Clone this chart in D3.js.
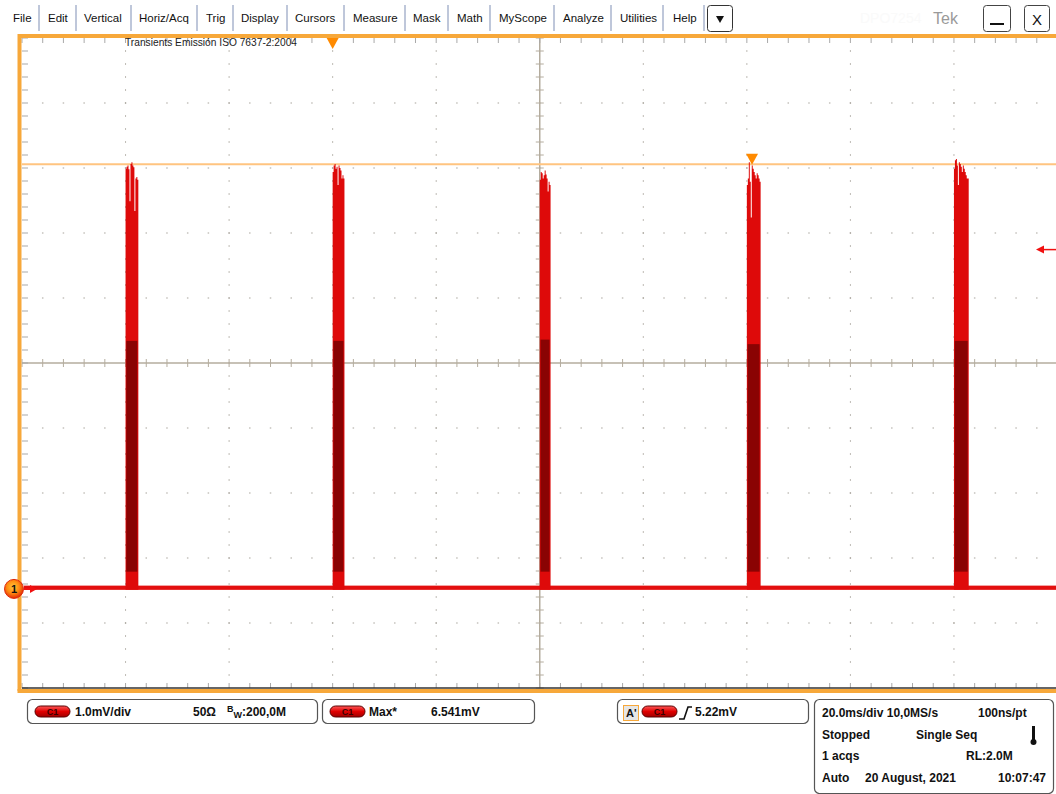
<!DOCTYPE html>
<html>
<head>
<meta charset="utf-8">
<script src="https://cdn.jsdelivr.net/npm/d3@7"></script>
<style>
  body { margin: 0; background: #fff; }
  svg { display: block; font-family: "Liberation Sans", Arial, sans-serif; }
</style>
</head>
<body>
<script>
// ---- data ----
var menuItems = ["File","Edit","Vertical","Horiz/Acq","Trig","Display","Cursors","Measure","Mask","Math","MyScope","Analyze","Utilities","Help"];
var menuX = [13, 48, 84, 139, 206, 241, 295, 353, 413, 457, 499, 563, 620, 673];
var menuSepX = [39, 76, 131, 197, 233, 287, 344, 405, 448, 490, 554, 611, 663, 704];

var timeDomain = [-60, 140];          // ms, trigger at 0
var groundDiv = -3.46;                // channel 1 ground position, divisions from centre
var voltsPerDiv = 1.0;                // mV/div
var pulseStarts = [-40, 0, 40, 80, 120]; // ms
var burstStep = 0.19;                 // ms between samples inside a burst
var pulsePeaks = [
  [6.45, 6.48, 6.50, 6.44, 5.95, 6.52, 6.55, 6.50, 6.47, 5.80, 6.30, 6.32, 6.28],
  [6.40, 6.50, 6.52, 6.45, 6.48, 6.20, 6.50, 6.46, 6.42, 6.30, 6.35, 6.30],
  [6.28, 6.40, 6.38, 6.30, 6.35, 6.42, 6.36, 6.30, 6.10, 6.25, 6.20],
  [6.20, 6.30, 6.55, 6.25, 5.70, 6.50, 6.45, 6.40, 6.35, 6.30, 6.38, 6.35, 6.30, 6.25],
  [6.45, 6.58, 6.60, 6.50, 6.20, 6.55, 6.52, 6.48, 6.40, 6.50, 6.45, 6.40, 6.35, 6.30, 6.30]
];
var denseTop = [3.80, 3.80, 3.82, 3.75, 3.80]; // mV, top of the dense (dark) part
var baseLow = -0.03, baseHigh = 0.035;          // baseline noise band, mV
var maxValue = 6.541, maxTime = 81;             // Max* measurement
var trigLevel = 5.22;

var title = "Transients Emissión ISO 7637-2:2004";

var W = 1056, H = 794;
var svg = d3.select("body").append("svg").attr("width", W).attr("height", H);

// ---- menu bar ----
var menu = svg.append("g");
menu.selectAll("text.m").data(menuItems).enter().append("text")
  .attr("x", function(d, i){ return menuX[i]; })
  .attr("y", 22).attr("font-size", 11.5).attr("fill", "#111")
  .text(function(d){ return d; });
menu.selectAll("line.sep").data(menuSepX).enter().append("line")
  .attr("x1", function(d){ return d; }).attr("x2", function(d){ return d; })
  .attr("y1", 5).attr("y2", 31).attr("stroke", "#7f8fb5").attr("stroke-width", 1);
menu.append("rect").attr("x", 707.5).attr("y", 5.5).attr("width", 25).attr("height", 26).attr("rx", 3)
  .attr("fill", "#fff").attr("stroke", "#333");
menu.append("path").attr("d", "M716,16 L724,16 L720,23 Z").attr("fill", "#111");
menu.append("text").attr("x", 860).attr("y", 23).attr("font-size", 14).attr("fill", "#fafafa").text("DPO7254");
menu.append("text").attr("x", 933).attr("y", 24).attr("font-size", 16).attr("fill", "#9a9a9a").text("Tek");
menu.append("rect").attr("x", 983.5).attr("y", 5.5).attr("width", 27).attr("height", 26).attr("rx", 3)
  .attr("fill", "#fff").attr("stroke", "#444");
menu.append("line").attr("x1", 990).attr("x2", 1004).attr("y1", 24).attr("y2", 24).attr("stroke", "#111").attr("stroke-width", 2);
menu.append("rect").attr("x", 1024.5).attr("y", 5.5).attr("width", 25).attr("height", 26).attr("rx", 3)
  .attr("fill", "#fff").attr("stroke", "#444");
menu.append("text").attr("x", 1037).attr("y", 25).attr("text-anchor", "middle").attr("font-size", 15).attr("fill", "#111").text("X");

// ---- scales ----
var plotL = 22, plotR = 1057.5, plotT = 38, plotB = 688;
var xScale = d3.scaleLinear().domain(timeDomain).range([plotL, plotR]);
var vLo = (-5 - groundDiv) * voltsPerDiv, vHi = (5 - groundDiv) * voltsPerDiv;
var yScale = d3.scaleLinear().domain([vLo, vHi]).range([plotB, plotT]);
var tMajor = d3.range(timeDomain[0], timeDomain[1] + 0.01, 20);
var tMinor = d3.range(timeDomain[0], timeDomain[1] + 0.01, 4);
var vMajor = d3.range(vLo, vHi + 0.001, voltsPerDiv);
var vMinor = d3.range(vLo, vHi + 0.001, voltsPerDiv / 5);
var tCenter = (timeDomain[0] + timeDomain[1]) / 2, vCenter = (vLo + vHi) / 2;

// ---- graticule ----
var grat = svg.append("g");
var gridCol = "#a8a49c";
tMajor.slice(1, -1).forEach(function(t){
  if (t === tCenter) return;
  grat.selectAll(null).data(vMinor.slice(1, -1)).enter().append("rect")
    .attr("x", xScale(t) - 0.5).attr("y", function(v){ return yScale(v) - 0.75; })
    .attr("width", 1).attr("height", 1.5).attr("fill", gridCol);
});
vMajor.slice(1, -1).forEach(function(v){
  if (Math.abs(v - vCenter) < 1e-6) return;
  grat.selectAll(null).data(tMinor.slice(1, -1)).enter().append("rect")
    .attr("x", function(t){ return xScale(t) - 0.75; }).attr("y", yScale(v) - 0.5)
    .attr("width", 1.5).attr("height", 1).attr("fill", gridCol);
});
// centre crosshair
grat.append("line").attr("x1", plotL).attr("x2", W).attr("y1", yScale(vCenter)).attr("y2", yScale(vCenter))
  .attr("stroke", "#b4ac9e").attr("stroke-width", 1.5);
grat.append("line").attr("x1", xScale(tCenter)).attr("x2", xScale(tCenter)).attr("y1", plotT).attr("y2", plotB)
  .attr("stroke", "#b4ac9e").attr("stroke-width", 1.5);
grat.selectAll(null).data(tMinor).enter().append("line")
  .attr("x1", function(t){ return xScale(t); }).attr("x2", function(t){ return xScale(t); })
  .attr("y1", yScale(vCenter) - 4).attr("y2", yScale(vCenter) + 4).attr("stroke", "#b4ac9e");
grat.selectAll(null).data(vMinor).enter().append("line")
  .attr("x1", xScale(tCenter) - 4).attr("x2", xScale(tCenter) + 4)
  .attr("y1", function(v){ return yScale(v); }).attr("y2", function(v){ return yScale(v); }).attr("stroke", "#b4ac9e");
// edge ticks
grat.selectAll(null).data(tMinor).enter().append("line")
  .attr("x1", function(t){ return xScale(t); }).attr("x2", function(t){ return xScale(t); })
  .attr("y1", plotT).attr("y2", plotT + 5).attr("stroke", "#a9a9a9");
grat.selectAll(null).data(tMinor).enter().append("line")
  .attr("x1", function(t){ return xScale(t); }).attr("x2", function(t){ return xScale(t); })
  .attr("y1", plotB - 5).attr("y2", plotB).attr("stroke", "#a9a9a9");
grat.selectAll(null).data(vMinor).enter().append("line")
  .attr("x1", plotL).attr("x2", plotL + 6)
  .attr("y1", function(v){ return yScale(v); }).attr("y2", function(v){ return yScale(v); }).attr("stroke", "#a9a9a9");

// title
svg.append("text").attr("x", 125).attr("y", 46).attr("font-size", 10.5)
  .attr("textLength", 172).attr("lengthAdjust", "spacingAndGlyphs")
  .attr("fill", "#222").text(title);

// ---- max measurement line ----
svg.append("line").attr("x1", plotL).attr("x2", W).attr("y1", yScale(maxValue) + 1.5).attr("y2", yScale(maxValue) + 1.5)
  .attr("stroke", "#ffc480").attr("stroke-width", 2);

// ---- waveform ----
var wave = svg.append("g");
wave.append("rect").attr("x", xScale(timeDomain[0]) + 2).attr("width", W - plotL - 2)
  .attr("y", yScale(baseHigh)).attr("height", yScale(baseLow) - yScale(baseHigh)).attr("fill", "#e30f0f");
var burstArea = d3.area().curve(d3.curveStepAfter)
  .x(function(d){ return xScale(d.t); })
  .y0(yScale(baseLow)).y1(function(d){ return yScale(d.v); });
pulseStarts.forEach(function(t0, i){
  var pts = pulsePeaks[i].map(function(v, k){ return {t: t0 + k * burstStep, v: v}; });
  pts.push({t: t0 + pulsePeaks[i].length * burstStep, v: baseHigh});
  wave.append("path").attr("d", burstArea(pts)).attr("fill", "#de0a0a");
  var t1 = t0 + pulsePeaks[i].length * burstStep;
  wave.append("rect")
    .attr("x", xScale(t0 + 0.15)).attr("width", xScale(t1 - 0.2) - xScale(t0 + 0.15))
    .attr("y", yScale(denseTop[i])).attr("height", yScale(0.25) - yScale(denseTop[i]))
    .attr("fill", "#8a0303");
});

// ---- frame ----
svg.append("line").attr("x1", plotL).attr("x2", W).attr("y1", plotB).attr("y2", plotB).attr("stroke", "#333").attr("stroke-width", 1.5);
svg.append("path").attr("d", "M19.5," + (plotB + 3) + " L19.5,36 L" + W + ",36")
  .attr("fill", "none").attr("stroke", "#f7a83a").attr("stroke-width", 4);
svg.append("line").attr("x1", 17.5).attr("x2", W).attr("y1", plotB + 3).attr("y2", plotB + 3)
  .attr("stroke", "#f7a83a").attr("stroke-width", 4);

// trigger position marker (top)
svg.append("path").attr("d", "M" + (xScale(0) - 6) + "," + plotT + " L" + (xScale(0) + 6) + "," + plotT + " L" + xScale(0) + "," + (plotT + 11) + " Z")
  .attr("fill", "#ff8a00");
// max marker
var mx = xScale(maxTime), my = yScale(maxValue) + 1;
svg.append("path").attr("d", "M" + (mx - 6) + "," + (my - 10) + " L" + (mx + 6) + "," + (my - 10) + " L" + mx + "," + (my + 1) + " Z")
  .attr("fill", "#ff8a00");
// trigger level arrow (right)
var ty = yScale(trigLevel) + 1;
svg.append("line").attr("x1", 1042).attr("x2", W).attr("y1", ty).attr("y2", ty).attr("stroke", "#f01010").attr("stroke-width", 1.5);
svg.append("path").attr("d", "M1036," + ty + " L1044," + (ty - 4) + " L1044," + (ty + 4) + " Z").attr("fill", "#f01010");

// channel 1 ground marker
var gy = yScale(0) + 1;
var grad = svg.append("defs").append("radialGradient").attr("id", "c1g").attr("cx", "45%").attr("cy", "40%").attr("r", "60%");
grad.append("stop").attr("offset", "0%").attr("stop-color", "#ffc83a");
grad.append("stop").attr("offset", "55%").attr("stop-color", "#ff8a10");
grad.append("stop").attr("offset", "100%").attr("stop-color", "#e02a08");
svg.append("circle").attr("cx", 14).attr("cy", gy).attr("r", 9.5).attr("fill", "url(#c1g)").attr("stroke", "#e02a08");
svg.append("text").attr("x", 14).attr("y", gy + 4).attr("text-anchor", "middle").attr("font-size", 11).attr("font-weight", "bold").attr("fill", "#111").text("1");
svg.append("line").attr("x1", 24).attr("x2", 32).attr("y1", gy).attr("y2", gy).attr("stroke", "#f01010").attr("stroke-width", 2);
svg.append("path").attr("d", "M37," + gy + " L30," + (gy - 4) + " L30," + (gy + 4) + " Z").attr("fill", "#f01010");

// ---- status boxes ----
function box(x, y, w, h){
  svg.append("rect").attr("x", x + 0.5).attr("y", y + 0.5).attr("width", w).attr("height", h).attr("rx", 5)
    .attr("fill", "#fff").attr("stroke", "#555").attr("stroke-width", 1.2);
}
var pg = svg.select("defs").append("linearGradient").attr("id", "pill").attr("x1", 0).attr("x2", 0).attr("y1", 0).attr("y2", 1);
pg.append("stop").attr("offset", "0%").attr("stop-color", "#ff5a5a");
pg.append("stop").attr("offset", "50%").attr("stop-color", "#e00000");
pg.append("stop").attr("offset", "100%").attr("stop-color", "#a00000");
function pill(x, y){
  svg.append("rect").attr("x", x).attr("y", y).attr("width", 35).attr("height", 11).attr("rx", 5.5)
    .attr("fill", "url(#pill)").attr("stroke", "#5a0000");
  svg.append("text").attr("x", x + 17.5).attr("y", y + 9).attr("text-anchor", "middle")
    .attr("font-size", 9).attr("font-weight", "bold").attr("fill", "#3a0000").text("C1");
}
function label(x, y, s, anchor){
  return svg.append("text").attr("x", x).attr("y", y).attr("font-size", 12).attr("font-weight", "bold")
    .attr("fill", "#111").attr("text-anchor", anchor || "start").text(s);
}
box(27, 699, 290, 24);
pill(35, 706);
label(75, 716, "1.0mV/div");
label(193, 716, "50Ω");
var bw = label(227, 716, "");
bw.append("tspan").attr("font-size", 9).attr("dy", -4).text("B");
bw.append("tspan").attr("font-size", 9).attr("dy", 6).text("W");
bw.append("tspan").attr("dy", -2).text(":200,0M");

box(322, 699, 212, 24);
pill(330, 706);
label(369, 716, "Max*");
label(431, 716, "6.541mV");

box(617, 699, 191, 24);
svg.append("rect").attr("x", 623.5).attr("y", 705.5).attr("width", 15).attr("height", 15).attr("fill", "#e6e6e6").attr("stroke", "#f7a83a");
svg.append("text").attr("x", 626).attr("y", 717).attr("font-size", 11).attr("font-weight", "bold").attr("fill", "#111").text("A'");
pill(642, 706);
svg.append("path").attr("d", "M679,719 L684,719 L688,707 L692,707").attr("fill", "none").attr("stroke", "#111").attr("stroke-width", 1.6);
label(695, 716, "5.22mV");

box(814, 699, 239, 94);
label(822, 717, "20.0ms/div 10,0MS/s");
label(978, 717, "100ns/pt");
label(822, 739, "Stopped");
label(916, 739, "Single Seq");
svg.append("rect").attr("x", 1032).attr("y", 726).attr("width", 3).attr("height", 14).attr("fill", "#111");
svg.append("circle").attr("cx", 1033.5).attr("cy", 742).attr("r", 3).attr("fill", "#111");
label(822, 760, "1 acqs");
label(966, 760, "RL:2.0M");
label(822, 782, "Auto");
label(865, 782, "20 August, 2021");
label(1046, 782, "10:07:47", "end");
</script>
</body>
</html>
